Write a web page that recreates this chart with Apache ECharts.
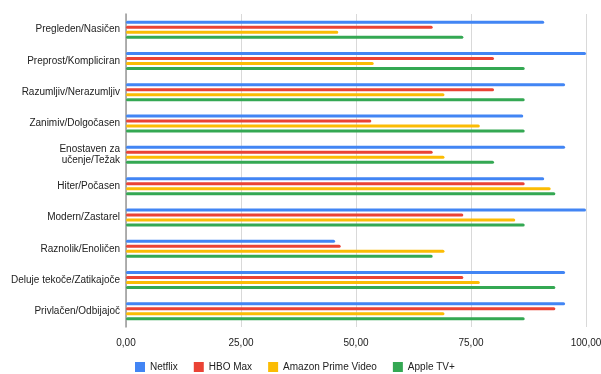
<!DOCTYPE html>
<html>
<head>
<meta charset="utf-8">
<script src="https://cdn.jsdelivr.net/npm/echarts@6/dist/echarts.min.js"></script>
<style>
  html, body { margin: 0; padding: 0; background: #fff; }
  #main { width: 601px; height: 374px; }
</style>
</head>
<body>
<div id="main"></div>
<script>
    // categories (top to bottom)
    var categories = ['Pregleden/Nasičen', 'Preprost/Kompliciran', 'Razumljiv/Nerazumljiv',
        'Zanimiv/Dolgočasen', 'Enostaven za\nučenje/Težak', 'Hiter/Počasen',
        'Modern/Zastarel', 'Raznolik/Enoličen', 'Deluje tekoče/Zatikajoče', 'Privlačen/Odbijajoč'];

    var seriesNames = ['Netflix', 'HBO Max', 'Amazon Prime Video', 'Apple TV+'];
    var netflix = [90.91, 100, 95.45, 86.36, 95.45, 90.91, 100, 45.45, 95.45, 95.45];
    var hboMax  = [66.67, 80, 80, 53.33, 66.67, 86.67, 73.33, 46.67, 73.33, 93.33];
    var amazon  = [46.15, 53.85, 69.23, 76.92, 69.23, 92.31, 84.62, 69.23, 76.92, 69.23];
    var appleTv = [73.33, 86.67, 86.67, 86.67, 80, 93.33, 86.67, 66.67, 93.33, 86.67];
    var xTicks  = [0, 25, 50, 75, 100];

    var colors = ['#4285F4', '#EA4335', '#FBBC04', '#34A853'];
    var values = [netflix, hboMax, amazon, appleTv];

    var series = [];
    for (var i = 0; i < seriesNames.length; i++) {
        series.push({
            name: seriesNames[i],
            type: 'bar',
            data: values[i],
            barWidth: 3,
            barGap: '67%',
            itemStyle: { color: colors[i], borderRadius: 1.5 }
        });
    }

    var option = {
        animation: false,
        textStyle: { fontFamily: 'Liberation Sans, Arial, sans-serif' },
        color: colors,
        grid: { left: 126, right: 15, top: 14, bottom: 47, outerBoundsMode: 'none', containLabel: false },
        legend: {
            data: seriesNames,
            top: 357,
            left: 130,
            icon: 'rect',
            itemWidth: 10,
            itemHeight: 10,
            itemGap: 16,
            textStyle: { fontSize: 10, color: '#222' }
        },
        xAxis: {
            type: 'value',
            min: xTicks[0],
            max: xTicks[xTicks.length - 1],
            interval: 25,
            axisLine: { show: false },
            axisTick: { show: false },
            splitLine: { lineStyle: { color: '#d9d9d9', width: 1 } },
            axisLabel: {
                fontSize: 10, color: '#222', margin: 11,
                formatter: function (v) { return v.toFixed(2).replace('.', ','); }
            }
        },
        yAxis: {
            type: 'category',
            data: categories,
            inverse: true,
            axisLine: { show: true, lineStyle: { color: '#999', width: 1.5 } },
            axisTick: { show: false },
            axisLabel: { fontSize: 10, color: '#222', margin: 6, lineHeight: 11 }
        },
        series: series
    };

    var myChart = echarts.init(document.getElementById('main'));
    myChart.setOption(option);
</script>
</body>
</html>
